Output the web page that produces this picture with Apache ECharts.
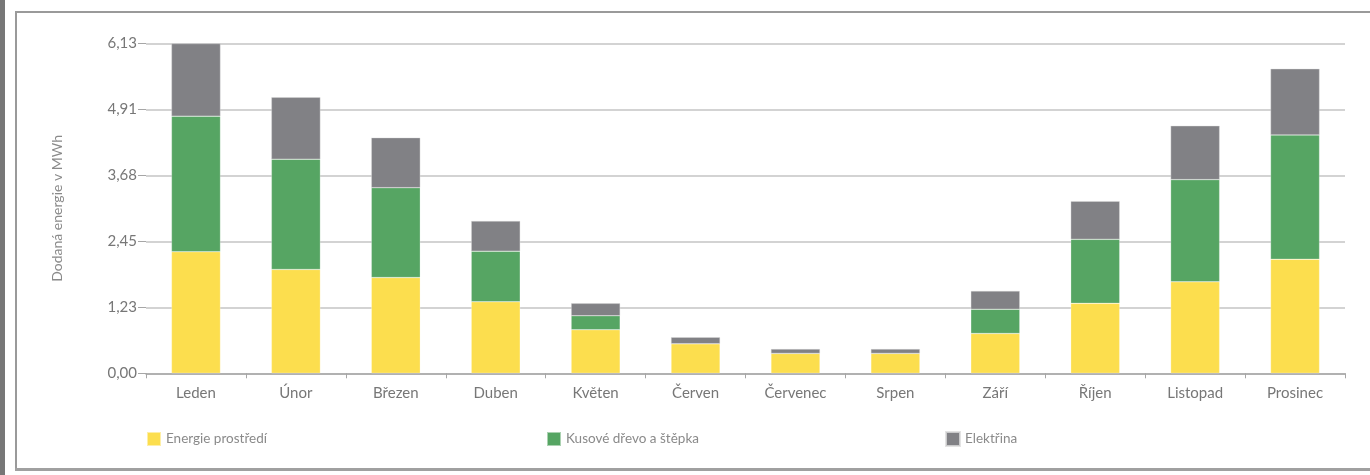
<!DOCTYPE html>
<html>
<head>
<meta charset="utf-8">
<script src="https://cdn.jsdelivr.net/npm/echarts@6/dist/echarts.min.js"></script>
<style>
html,body{margin:0;padding:0;background:#fff;}
#c{width:1370px;height:475px;}
</style>
</head>
<body>
<div id="c"></div>
<script>
const categories = ['Leden','Únor','Březen','Duben','Květen','Červen','Červenec','Srpen','Září','Říjen','Listopad','Prosinec'];
const energieProstredi = [2.26, 1.93, 1.78, 1.33, 0.81, 0.55, 0.37, 0.37, 0.74, 1.30, 1.70, 2.12];
const kusoveDrevo = [2.52, 2.05, 1.67, 0.94, 0.26, 0, 0, 0, 0.45, 1.19, 1.90, 2.31];
const elektrina = [1.35, 1.15, 0.93, 0.56, 0.23, 0.12, 0.08, 0.08, 0.34, 0.71, 1.00, 1.23];
const yTickLabels = ['0,00','1,23','2,45','3,68','4,91','6,13'];
const seriesNames = ['Energie prostředí','Kusové dřevo a štěpka','Elektřina'];

const FONT = 'Lato';
const yMax = 6.13;
const yInterval = yMax / 5;
const colors = ['#FCDE4E', '#56A563', '#818185'];

const chart = echarts.init(document.getElementById('c'), null, {renderer: 'canvas'});
const legendBase = {
  top: 431, padding: 0, itemWidth: 14, itemHeight: 14, icon: 'rect', itemGap: 6,
  textStyle: {fontFamily: FONT, fontSize: 13.5, color: '#8a8a8a'}
};
chart.setOption({
  animation: false,
  color: colors,
  graphic: [
    {type: 'rect', shape: {x: 0, y: 0, width: 5, height: 475}, style: {fill: '#777'}},
    {type: 'rect', shape: {x: 15, y: 11, width: 1360, height: 2}, style: {fill: '#9a9a9a'}},
    {type: 'rect', shape: {x: 15, y: 11, width: 2, height: 460}, style: {fill: '#9a9a9a'}},
    {type: 'rect', shape: {x: 15, y: 468, width: 1360, height: 3}, style: {fill: '#a0a0a0'}}
  ],
  legend: [
    Object.assign({left: 146, data: [seriesNames[0]]}, legendBase),
    Object.assign({left: 546, data: [seriesNames[1]]}, legendBase),
    Object.assign({left: 945, data: [seriesNames[2]]}, legendBase)
  ],
  grid: {left: 146, right: 25, top: 43.5, bottom: 101.7, containLabel: false},
  xAxis: {
    type: 'category',
    data: categories,
    axisLine: {lineStyle: {color: '#a6a6a6', width: 1.5}},
    axisTick: {show: true, length: 5, lineStyle: {color: '#a6a6a6'}},
    axisLabel: {fontFamily: FONT, fontSize: 15, color: '#777', margin: 12}
  },
  yAxis: {
    type: 'value',
    min: 0, max: yMax, interval: yInterval,
    name: 'Dodaná energie v MWh',
    nameLocation: 'middle',
    nameRotate: 90,
    nameGap: 82,
    nameTextStyle: {fontFamily: FONT, fontSize: 14, color: '#8a8a8a'},
    axisLine: {show: false},
    axisTick: {show: true, length: 8, lineStyle: {color: '#a6a6a6'}},
    axisLabel: {
      fontFamily: FONT, fontSize: 15, color: '#777', margin: 9,
      formatter: function (v) { return yTickLabels[Math.round(v / yInterval)]; }
    },
    splitLine: {lineStyle: {color: '#c4c4c4', width: 1.5}}
  },
  series: [
    {name: seriesNames[0], type: 'bar', stack: 't', data: energieProstredi, barWidth: 49,
     itemStyle: {color: colors[0], borderColor: 'rgba(255,255,255,0.5)', borderWidth: 0.5}},
    {name: seriesNames[1], type: 'bar', stack: 't', data: kusoveDrevo, barWidth: 49,
     itemStyle: {color: colors[1], borderColor: 'rgba(255,255,255,0.5)', borderWidth: 0.5}},
    {name: seriesNames[2], type: 'bar', stack: 't', data: elektrina, barWidth: 49,
     itemStyle: {color: colors[2], borderColor: 'rgba(220,220,220,0.8)', borderWidth: 0.5}}
  ]
});
</script>
</body>
</html>
